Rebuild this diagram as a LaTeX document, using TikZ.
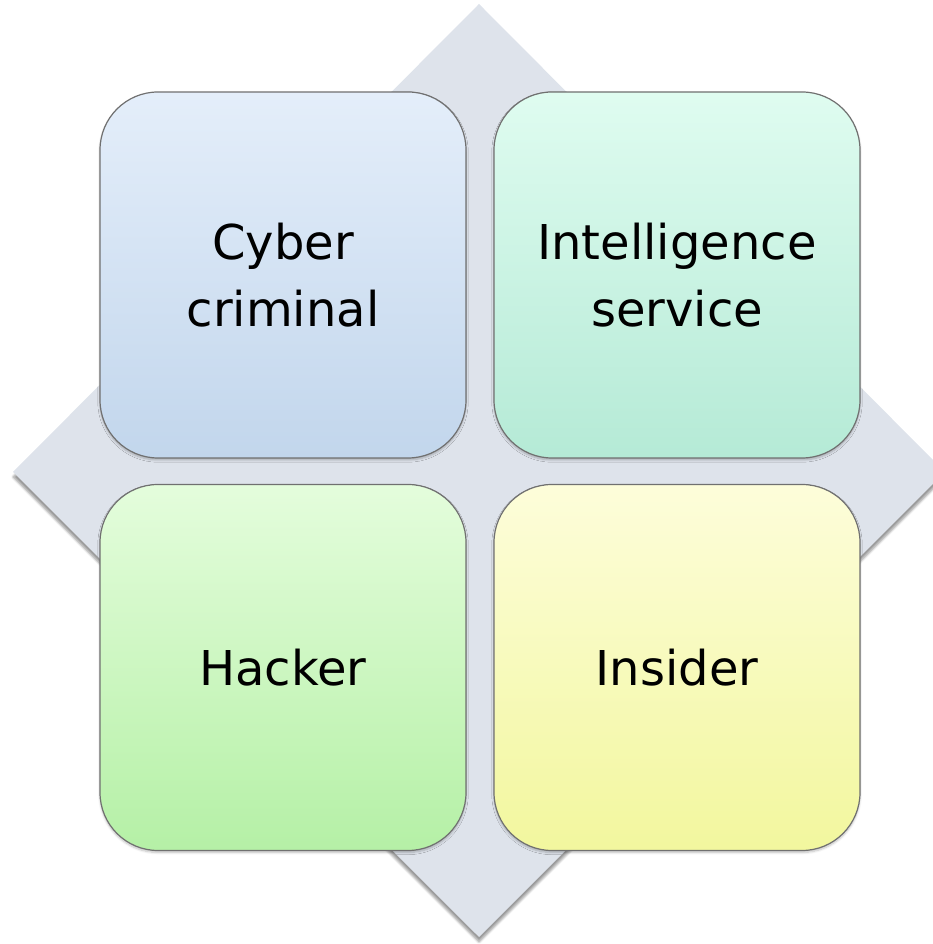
\documentclass[tikz,border=0pt]{standalone}
\usepackage{fontspec}
\setmainfont{DejaVu Sans}
\usetikzlibrary{shadows.blur}
\definecolor{diam}{HTML}{DEE3EB}
\definecolor{ctop}{HTML}{E4EEFA}\definecolor{cbot}{HTML}{C2D6EC}
\definecolor{itop}{HTML}{DFFCF0}\definecolor{ibot}{HTML}{B5EAD6}
\definecolor{htop}{HTML}{E4FDDC}\definecolor{hbot}{HTML}{B5F0A6}
\definecolor{stop}{HTML}{FDFDDA}\definecolor{sbot}{HTML}{F2F79E}
\definecolor{edge}{HTML}{707070}
\tikzset{
  card/.style={draw=edge, line width=1.2pt, rounded corners=58pt,
    minimum width=366pt, minimum height=366pt, inner sep=0pt, align=center,
    font=\fontsize{48}{67}\selectfont,
    blur shadow={shadow xshift=0pt, shadow yshift=-2pt, shadow blur steps=6, shadow opacity=25}},
}
\begin{document}
\begin{tikzpicture}[x=1pt,y=1pt]
\useasboundingbox (0,0) rectangle (932,944);
\coordinate (dt) at (479,940);
\coordinate (dl) at (13,472);
\coordinate (db) at (479,7);
\coordinate (dr) at (945,472);
\path[fill=diam, blur shadow={shadow xshift=0pt, shadow yshift=-5pt, shadow blur steps=8, shadow opacity=40}]
  (dt) -- (dl) -- (db) -- (dr) -- cycle;
\node[card, top color=ctop, bottom color=cbot] (cyber) at (283,669) {Cyber\\criminal};
\node[card, top color=itop, bottom color=ibot] (intel) at (677,669) {Intelligence\\service};
\node[card, top color=htop, bottom color=hbot] (hacker) at (283,276.5) {Hacker};
\node[card, top color=stop, bottom color=sbot] (insider) at (677,276.5) {Insider};
\end{tikzpicture}
\end{document}
